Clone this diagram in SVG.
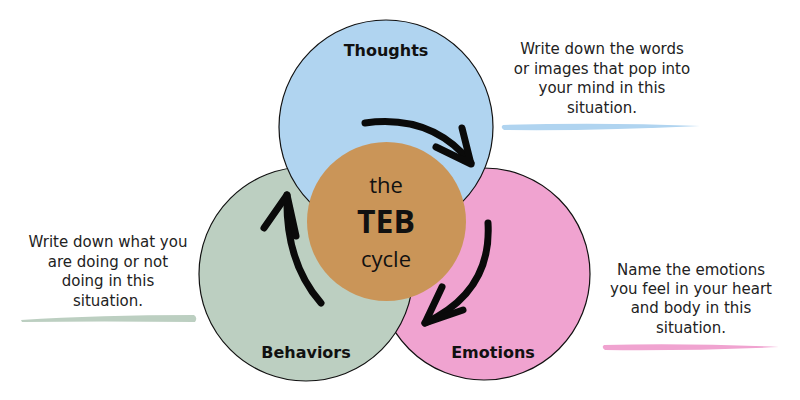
<svg xmlns="http://www.w3.org/2000/svg" width="800" height="400" viewBox="0 0 800 400">
<style>
.c{stroke:#111;stroke-width:1.2}
.lbl{font-family:"DejaVu Sans","Liberation Sans",sans-serif;font-weight:bold;font-size:16px;fill:#111;text-anchor:middle}
.desc{font-family:"DejaVu Sans","Liberation Sans",sans-serif;font-size:15px;fill:#222;text-anchor:middle}
.ctr{font-family:"Open Sans","Liberation Sans",sans-serif;fill:#111;text-anchor:middle}
.arr{fill:none;stroke:#0a0a0a;stroke-width:7;stroke-linecap:round;stroke-linejoin:round}
</style>
<rect width="800" height="400" fill="#fff"/>
<g id="emotions">
<circle class="c" cx="484" cy="274" r="106" fill="#F0A3D0"/>
<text class="lbl" x="493" y="358">Emotions</text>
</g>
<g id="behaviors">
<circle class="c" cx="306" cy="274" r="107" fill="#BCCFC1"/>
<text class="lbl" x="306" y="358">Behaviors</text>
</g>
<g id="thoughts">
<circle class="c" cx="386" cy="127" r="107" fill="#B0D4F0"/>
<text class="lbl" x="386" y="56">Thoughts</text>
</g>
<g id="center">
<circle cx="386.5" cy="221.5" r="79.5" fill="#CA9558"/>
<text class="ctr" x="386" y="193" font-size="22">the</text>
<text class="ctr" x="386" y="233" font-size="32" font-weight="bold">TEB</text>
<text class="ctr" x="386" y="267" font-size="22">cycle</text>
</g>
<g id="connectors">
<path class="arr" d="M365,123 Q432,114 471,163"/>
<path class="arr" d="M462,128 L471,164 L436,147"/>
<path class="arr" d="M488,223 Q492,292 425,323"/>
<path class="arr" d="M442,287 L425,323 L463,310"/>
<path class="arr" d="M321,303 Q285,262 287,195"/>
<path class="arr" d="M264,228 L287,195 L296,236"/>
</g>
<g id="note-thoughts">
<text class="desc" x="602" y="54">Write down the words</text>
<text class="desc" x="602" y="74">or images that pop into</text>
<text class="desc" x="602" y="93">your mind in this</text>
<text class="desc" x="602" y="113">situation.</text>
<path d="M503,125 Q600,122 700,126 Q600,131 504,130 Q500,127 503,125 Z" fill="#B0D4F0"/>
</g>
<g id="note-behaviors">
<text class="desc" x="108" y="247">Write down what you</text>
<text class="desc" x="108" y="267">are doing or not</text>
<text class="desc" x="108" y="286">doing in this</text>
<text class="desc" x="108" y="306">situation.</text>
<path d="M21,320 Q100,315 194,315 Q198,318 195,322 Q100,321 22,322 Z" fill="#BCCFC1"/>
</g>
<g id="note-emotions">
<text class="desc" x="691" y="275">Name the emotions</text>
<text class="desc" x="691" y="294">you feel in your heart</text>
<text class="desc" x="691" y="313">and body in this</text>
<text class="desc" x="691" y="333">situation.</text>
<path d="M604,345 Q690,343 779,347 Q690,351 605,350 Q601,347 604,345 Z" fill="#F0A3D0"/>
</g>
</svg>
